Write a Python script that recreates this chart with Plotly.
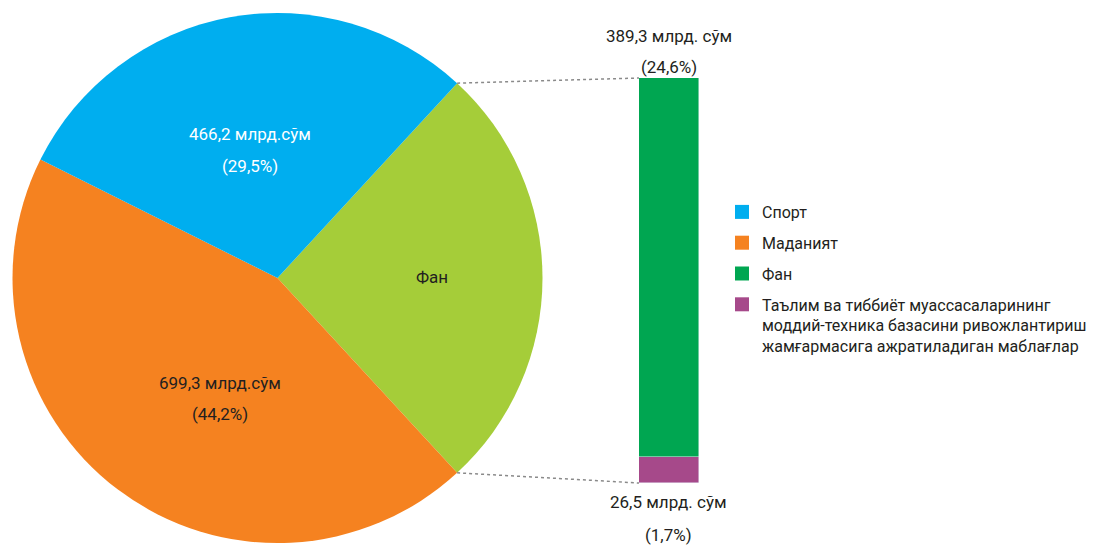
import math
import plotly.graph_objects as go

# pie part
pie_labels = ["Фан", "Маданият", "Спорт"]
pie_values_main = [699.3, 466.2]          # Маданият, Спорт
# bar part (breakdown of "Фан" slice)
bar_labels = ["Фан", "Таълим ва тиббиёт муассасаларининг<br>моддий-техника базасини ривожлантириш<br>жамғармасига ажратиладиган маблағлар"]
bar_values = [389.3, 26.5]
legend_labels = ["Спорт", "Маданият", "Фан", bar_labels[1]]

c_blue = "#00aeef"
c_orange = "#f58220"
c_lime = "#a5cd39"
c_green = "#00a651"
c_purple = "#a6498a"
txt = "#231f20"
FONT = "Roboto, Liberation Sans, sans-serif"
FS = 17
LFS = 16

W, H = 1103, 545
fan_total = sum(bar_values)
pie_values = [fan_total] + pie_values_main
grand = sum(pie_values)


def num(v, d=1):
    return f"{v:.{d}f}".replace(".", ",")


def pct(v):
    return num(v / grand * 100) + "%"


fan_angle = fan_total / grand * 360
rotation = 90 - fan_angle / 2

# pie box in pixels
px0, px1, py0, py1 = 12, 543, 13, 543
fig = go.Figure()
fig.add_trace(go.Pie(
    labels=pie_labels, values=pie_values, sort=False, direction="clockwise",
    rotation=rotation, textinfo="none",
    marker=dict(colors=[c_lime, c_orange, c_blue], line=dict(width=0)),
    domain=dict(x=[px0 / W, px1 / W], y=[1 - py1 / H, 1 - py0 / H]),
    showlegend=False, hoverinfo="label+value",
))

# slice labels (pixel positions of each line)
slice_lines = [
    (["Фан"], [(432, 277)], txt),
    ([f"{num(pie_values[1])} млрд.сўм", f"({pct(pie_values[1])})"], [(220, 383), (220, 414)], txt),
    ([f"{num(pie_values[2])} млрд.сўм", f"({pct(pie_values[2])})"], [(250, 134), (250, 166)], "white"),
]
for lines, pos, col in slice_lines:
    for t, (lx, ly) in zip(lines, pos):
        fig.add_annotation(x=lx / W, y=1 - ly / H, xref="paper", yref="paper",
                           text=t, showarrow=False, xanchor="center", yanchor="middle",
                           font=dict(size=FS, color=col, family=FONT))

# stacked bar (bottom segment first)
bx0, bx1, by_top, by_bot = 639, 699, 78, 483
fig.add_trace(go.Bar(x=[0], y=[bar_values[1]], marker_color=c_purple, width=1,
                     showlegend=False, name="Таълим"))
fig.add_trace(go.Bar(x=[0], y=[bar_values[0]], marker_color=c_green, width=1,
                     showlegend=False, name="Фан"))

# legend entries
for i, (name, col) in enumerate(zip(legend_labels, [c_blue, c_orange, c_green, c_purple])):
    fig.add_trace(go.Scatter(x=[None], y=[None], mode="markers", name=name,
                             legendgroup=f"g{i}",
                             marker=dict(symbol="square", size=14, color=col)))

# bar labels, one annotation per line
top_lines = [f"{num(bar_values[0])} млрд. сўм", f"({pct(bar_values[0])})"]
bot_lines = [f"{num(bar_values[1])} млрд. сўм", f"({pct(bar_values[1])})"]
for txt_line, shift in zip(top_lines, [42, 11]):
    fig.add_annotation(x=0, y=fan_total, xref="x", yref="y", yanchor="middle", yshift=shift,
                       text=txt_line, showarrow=False,
                       font=dict(size=FS, color=txt, family=FONT))
for txt_line, shift in zip(bot_lines, [-19, -52]):
    fig.add_annotation(x=0, y=0, xref="x", yref="y", yanchor="middle", yshift=shift,
                       text=txt_line, showarrow=False,
                       font=dict(size=FS, color=txt, family=FONT))

# connector lines from fan slice edges to bar corners
cx, cy, r = (px0 + px1) / 2, (py0 + py1) / 2, min(px1 - px0, py1 - py0) / 2
for ang, by in [(rotation, by_top), (rotation + fan_angle, by_bot)]:
    ex = cx + r * math.sin(math.radians(ang))
    ey = cy - r * math.cos(math.radians(ang))
    fig.add_shape(type="line", xref="paper", yref="paper",
                  x0=ex / W, y0=1 - ey / H, x1=bx0 / W, y1=1 - by / H,
                  line=dict(color="#8a8a8a", width=1.5, dash="dot"))

fig.update_layout(
    width=W, height=H, barmode="stack", bargap=0,
    margin=dict(l=0, r=0, t=0, b=0),
    paper_bgcolor="white", plot_bgcolor="white",
    font=dict(family=FONT, color=txt, size=FS),
    xaxis=dict(domain=[bx0 / W, bx1 / W], range=[-0.5, 0.5], visible=False, fixedrange=True),
    yaxis=dict(domain=[1 - by_bot / H, 1 - by_top / H], range=[0, fan_total], visible=False),
    legend=dict(x=722 / W, y=1 - 195 / H, xanchor="left", yanchor="top",
                font=dict(size=LFS, family=FONT, color=txt), valign="top",
                traceorder="grouped", tracegroupgap=7, bgcolor="rgba(0,0,0,0)"),
)

fig.write_html("out.html", config={"displayModeBar": False},
               post_script="document.body.style.margin='0px';")
